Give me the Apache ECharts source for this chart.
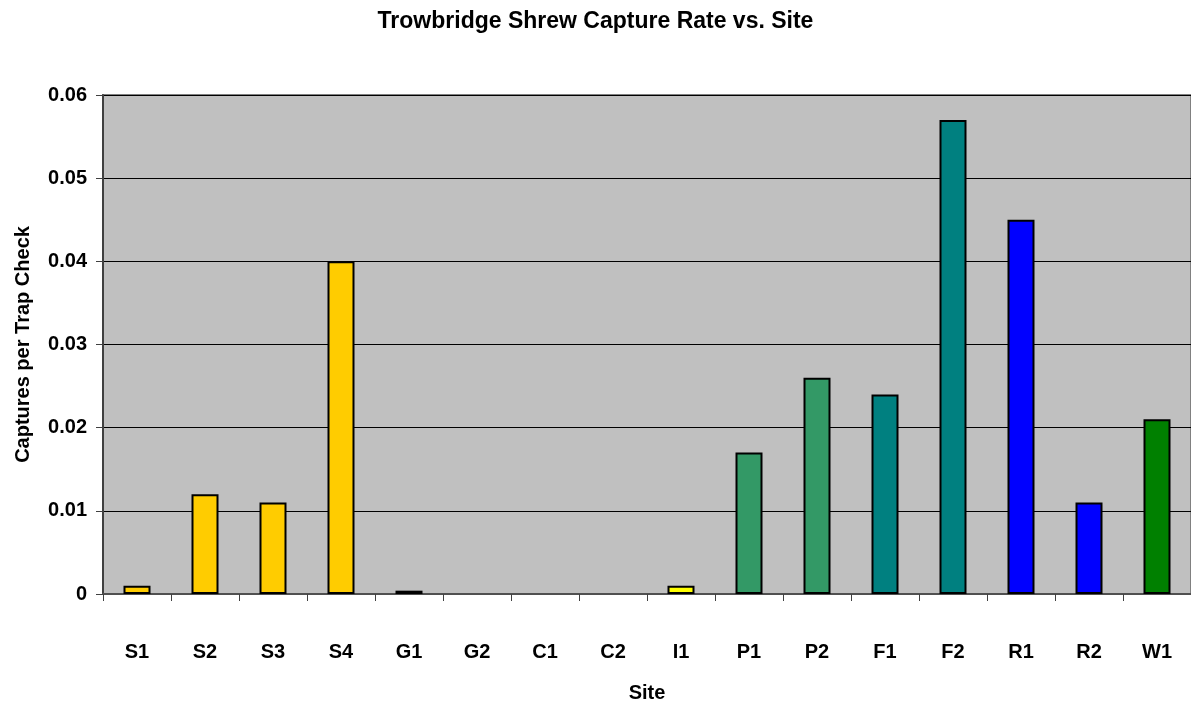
<!doctype html>
<html lang="en">
  <head>
    <meta charset="UTF-8" />
    <title>Trowbridge Shrew Capture Rate vs. Site</title>
    <script src="https://cdn.jsdelivr.net/npm/echarts/dist/echarts.min.js"></script>
    <style>
      html, body { margin: 0; padding: 0; background: #fff; }
      #main { width: 1191px; height: 708px; }
    </style>
  </head>
  <body>
    <div id="main"></div>
    <script>
      // sites along the x axis
      const sites = ["S1", "S2", "S3", "S4", "G1", "G2", "C1", "C2", "I1", "P1", "P2", "F1", "F2", "R1", "R2", "W1"];
      // captures per trap check
      const rates = [0.001, 0.012, 0.011, 0.04, 0.0004, 0, 0, 0, 0.001, 0.017, 0.026, 0.024, 0.057, 0.045, 0.011, 0.021];
      // bar fill per site
      const barColors = ["#FFCC00", "#FFCC00", "#FFCC00", "#FFCC00", "#FFFFCC", "#FFFFCC", "#FFFFCC", "#FFFFCC", "#FFFF00",
        "#339966", "#339966", "#008080", "#008080", "#0000FF", "#0000FF", "#008000"];

      const chart = echarts.init(document.getElementById("main"));
      const font = "Liberation Sans, Arial, sans-serif";

      chart.setOption({
        animation: false,
        title: {
          text: "Trowbridge Shrew Capture Rate vs. Site",
          left: "center",
          top: 5,
          textStyle: { fontFamily: font, fontSize: 23, fontWeight: "bold", color: "#000" }
        },
        grid: {
          left: 103,
          right: 0,
          top: 95,
          bottom: 110,
          show: true,
          backgroundColor: "#C0C0C0",
          borderColor: "#808080",
          borderWidth: 2
        },
        xAxis: {
          type: "category",
          data: sites,
          name: "Site",
          nameLocation: "middle",
          nameGap: 89,
          nameTextStyle: { fontFamily: font, fontSize: 20, fontWeight: "bold", color: "#000" },
          axisLine: { lineStyle: { color: "#505050", width: 2 } },
          axisTick: { show: true, length: 7, lineStyle: { color: "#404040", width: 1 } },
          axisLabel: { margin: 48, fontFamily: font, fontSize: 20, fontWeight: "bold", color: "#000" }
        },
        yAxis: {
          type: "value",
          min: 0,
          max: 0.06,
          interval: 0.01,
          name: "Captures per Trap Check",
          nameLocation: "middle",
          nameGap: 70,
          nameTextStyle: { fontFamily: font, fontSize: 20, fontWeight: "bold", color: "#000" },
          axisLine: { show: true, lineStyle: { color: "#404040", width: 2 } },
          axisTick: { show: true, length: 7, lineStyle: { color: "#404040" } },
          axisLabel: {
            margin: 16,
            fontFamily: font,
            fontSize: 20,
            fontWeight: "bold",
            color: "#000",
            formatter: function (v) { return String(parseFloat(v.toFixed(2))); }
          },
          splitLine: { lineStyle: { color: "#000", width: 1 } }
        },
        series: [
          {
            type: "bar",
            barWidth: 27,
            data: rates.map(function (v, i) {
              return {
                value: v,
                itemStyle: { color: barColors[i], borderWidth: v === 0 ? 0 : 2 }
              };
            }),
            itemStyle: { borderColor: "#000", borderWidth: 2 }
          }
        ]
      });
    </script>
  </body>
</html>
